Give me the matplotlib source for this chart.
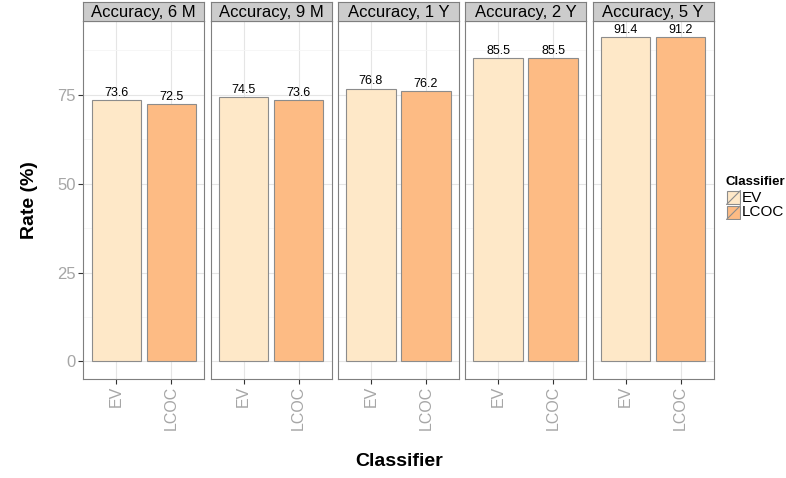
import matplotlib.pyplot as plt
import matplotlib as mpl
import numpy as np

plt.rcParams['font.family'] = ['Liberation Sans', 'DejaVu Sans']

panels = ["Accuracy, 6 M", "Accuracy, 9 M", "Accuracy, 1 Y", "Accuracy, 2 Y", "Accuracy, 5 Y"]
classifiers = ["EV", "LCOC"]
ev_rate = [73.6, 74.5, 76.8, 85.5, 91.4]
lcoc_rate = [72.5, 73.6, 76.2, 85.5, 91.2]
y_ticks = [0, 25, 50, 75]

colours = ["#FEE8C8", "#FDBB84"]
edge = "#8c8c8c"

W, H = 786, 478
fig = plt.figure(figsize=(W / 100, H / 100), dpi=100)

def px(x0, y0, x1, y1):
    # pixel box (top-left origin) -> figure fraction
    return [x0 / W, 1 - y1 / H, (x1 - x0) / W, (y1 - y0) / H]

left0, pw, step = 83.3, 121.0, 127.3
strip_top, strip_bot, bottom = 2, 21, 378.5

for i, name in enumerate(panels):
    x0 = left0 + i * step
    ax = fig.add_axes(px(x0, strip_bot, x0 + pw, bottom))
    vals = [ev_rate[i], lcoc_rate[i]]
    xs = np.arange(1, len(classifiers) + 1)
    ax.bar(xs, vals, width=0.9, color=colours, edgecolor=edge, linewidth=0.8, zorder=3)
    for x, v in zip(xs, vals):
        ax.text(x, v + 0.3, f"{v:.1f}", ha="center", va="bottom", fontsize=9, zorder=4)
    ax.set_xlim(0.4, 2.6)
    ax.set_ylim(-4.8, 95.8)
    ax.set_xticks(xs)
    ax.set_xticklabels(classifiers, rotation=90, color="#a6a6a6", fontsize=11.5)
    ax.set_yticks(y_ticks)
    ax.set_yticks([12.5, 37.5, 62.5, 87.5], minor=True)
    if i == 0:
        ax.set_yticklabels([str(t) for t in y_ticks], color="#a6a6a6", fontsize=12)
    else:
        ax.set_yticklabels([])
    ax.tick_params(axis="y", which="minor", length=0)
    ax.tick_params(axis="both", which="major", color="#333333", width=0.8, length=3.5, pad=2)
    if i != 0:
        ax.tick_params(axis="y", which="major", length=0)
    ax.grid(True, which="major", color="#e5e5e5", linewidth=0.8, zorder=0)
    ax.grid(True, which="minor", axis="y", color="#f5f5f5", linewidth=0.6, zorder=0)
    for s in ax.spines.values():
        s.set_color("#7f7f7f")
        s.set_linewidth(0.8)

    sax = fig.add_axes(px(x0, strip_top, x0 + pw, strip_bot))
    sax.set_facecolor("#cccccc")
    sax.set_xticks([])
    sax.set_yticks([])
    for s in sax.spines.values():
        s.set_color("#7f7f7f")
        s.set_linewidth(0.8)
    sax.text(0.5, 0.45, name, ha="center", va="center", fontsize=12, transform=sax.transAxes)

fig.text(30 / W, 1 - 200 / H, "Rate (%)", rotation=90, ha="center", va="center",
         fontsize=14, fontweight="bold")
fig.text(399 / W, 1 - 462 / H, "Classifier", ha="center", va="center",
         fontsize=14, fontweight="bold")

# Legend
fig.text(725 / W, 1 - 182 / H, "Classifier", ha="left", va="center", fontsize=9.5, fontweight="bold")
for j, (lab, c) in enumerate(zip(classifiers, colours)):
    ky = 190 + j * 15
    kax = fig.add_axes(px(726, ky, 741, ky + 15))
    kax.add_patch(mpl.patches.Rectangle((0.04, 0.04), 0.92, 0.92, facecolor=c, edgecolor=edge, linewidth=0.8))
    kax.plot([0.04, 0.96], [0.04, 0.96], color=edge, linewidth=0.8)
    kax.set_xlim(0, 1)
    kax.set_ylim(0, 1)
    kax.axis("off")
    fig.text(742 / W, 1 - (ky + 7.5) / H, lab, ha="left", va="center", fontsize=11)

plt.savefig("out.png", dpi=100)
